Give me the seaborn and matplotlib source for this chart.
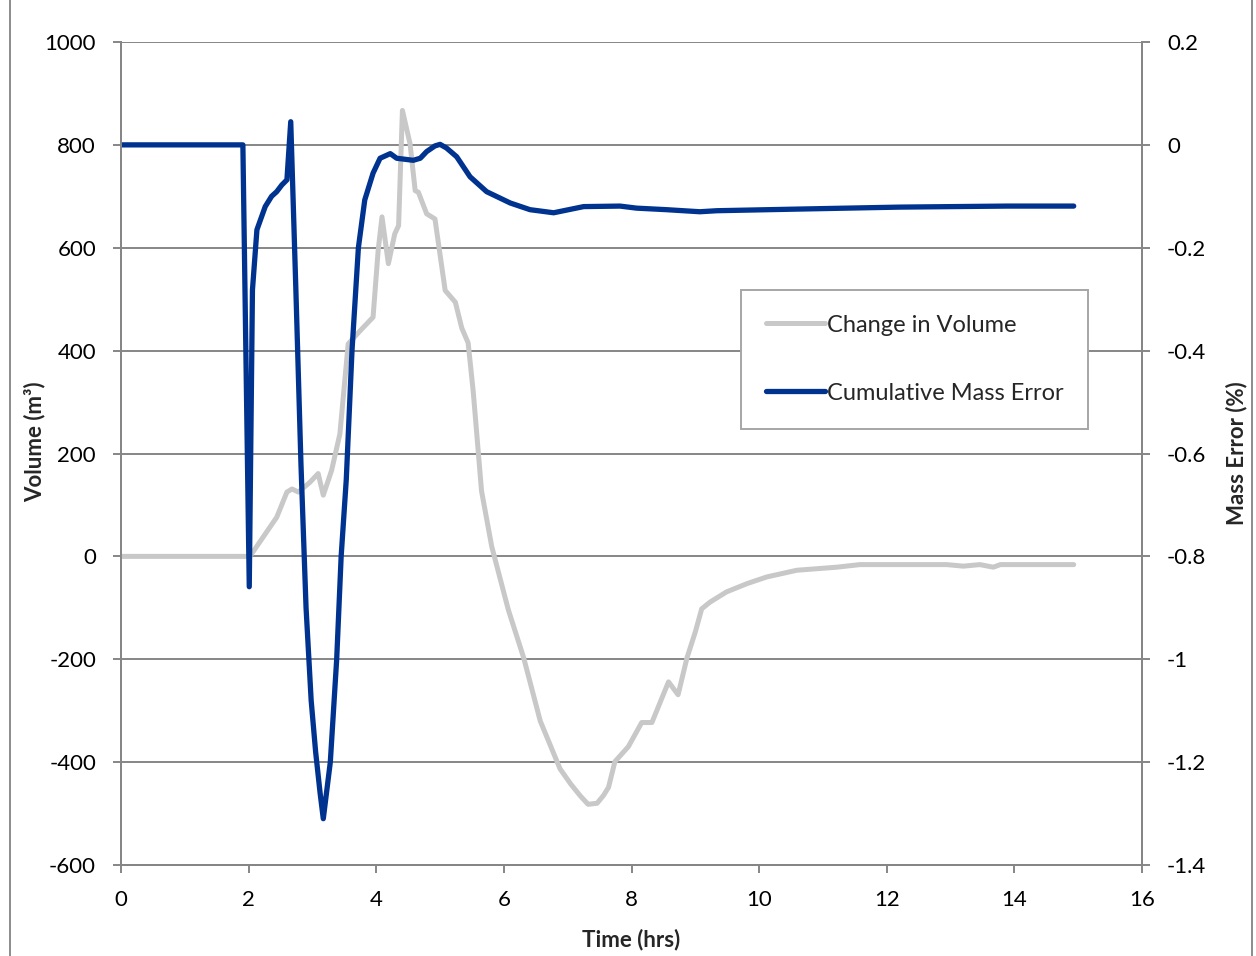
import seaborn as sns
import matplotlib.pyplot as plt
from matplotlib.lines import Line2D

# Change in Volume (m3) vs time (hrs)
vol_time = [0, 2.02, 2.44, 2.60, 2.68, 2.78, 2.96, 3.09, 3.17, 3.30, 3.43, 3.56,
            3.75, 3.95, 4.03, 4.09, 4.19, 4.29, 4.35, 4.41, 4.53, 4.61, 4.66,
            4.79, 4.92, 5.08, 5.24, 5.34, 5.44, 5.52, 5.65, 5.81, 6.07, 6.31,
            6.57, 6.88, 7.05, 7.20, 7.32, 7.46, 7.56, 7.64, 7.74, 7.95, 8.16, 8.32, 8.58,
            8.73, 8.87, 9.0, 9.10, 9.23, 9.49, 9.81, 10.12, 10.59, 11.22, 11.58,
            12.94, 13.2, 13.46, 13.67, 13.78, 14.93]
volume = [0, 0, 76, 125, 131, 125, 144, 161, 119, 167, 238, 413,
          439, 465, 595, 660, 569, 627, 643, 867, 802, 711, 708,
          666, 656, 517, 494, 444, 415, 320, 127, 19, -104, -197,
          -320, -413, -443, -466, -482, -480, -465, -449, -399, -370, -323, -323, -244,
          -269, -197, -147, -102, -89, -69, -53, -40, -27, -21, -16,
          -16, -19, -16, -21, -16, -16]

# Cumulative Mass Error (%) vs time (hrs)
err_time = [0, 1.91, 2.01, 2.06, 2.13, 2.26, 2.36, 2.44, 2.52, 2.60, 2.66, 2.74,
            2.82, 2.90, 2.98, 3.05, 3.12, 3.17, 3.28, 3.38, 3.45, 3.53, 3.62, 3.72,
            3.82, 3.95, 4.06, 4.22, 4.32, 4.58, 4.69, 4.79, 4.92, 5.0, 5.1, 5.26, 5.47,
            5.73, 6.10, 6.41, 6.78, 7.25, 7.82, 8.08, 8.55, 9.07, 9.34, 10.54,
            12.2, 13.88, 14.93]
mass_error = [0, 0, -0.859, -0.282, -0.165, -0.12, -0.10, -0.091, -0.078, -0.068, 0.045, -0.28,
              -0.62, -0.90, -1.08, -1.18, -1.26, -1.31, -1.20, -1.0, -0.80, -0.651, -0.40, -0.2,
              -0.107, -0.055, -0.026, -0.017, -0.026, -0.030, -0.026, -0.013, -0.002, 0.001, -0.006, -0.023, -0.062,
              -0.091, -0.113, -0.126, -0.132, -0.12, -0.119, -0.123, -0.126, -0.13, -0.128, -0.125,
              -0.121, -0.119, -0.119]

grey_line = "#C8C8C8"
blue_line = "#00338F"
axis_grey = "#868686"

sns.set_style("white")
plt.rcParams["font.family"] = ["Lato", "DejaVu Sans"]
plt.rcParams["font.size"] = 16
plt.rcParams["axes.unicode_minus"] = False

fig = plt.figure(figsize=(12.56, 9.56), dpi=100)
ax = fig.add_axes([121 / 1256, 1 - 865 / 956, 1021 / 1256, 823 / 956])
ax2 = ax.twinx()

sns.lineplot(x=vol_time, y=volume, ax=ax, color=grey_line, linewidth=3.6,
             label="Change in Volume", legend=False)
sns.lineplot(x=err_time, y=mass_error, ax=ax2, color=blue_line, linewidth=3.8,
             label="Cumulative Mass Error", legend=False)

ax.set_xlim(0, 16)
ax.set_ylim(-600, 1000)
ax2.set_ylim(-1.4, 0.2)
ax.set_xticks(range(0, 17, 2))
ax.set_yticks(range(-600, 1001, 200))
ax2.set_yticks([-1.4, -1.2, -1, -0.8, -0.6, -0.4, -0.2, 0, 0.2])
ax2.set_yticklabels(["-1.4", "-1.2", "-1", "-0.8", "-0.6", "-0.4", "-0.2", "0", "0.2"])

ax.grid(axis="y", color=axis_grey, linewidth=1.4)
ax.set_axisbelow(True)

for a in (ax, ax2):
    a.spines["top"].set_visible(False)
    for s in ("left", "right", "bottom"):
        a.spines[s].set_color(axis_grey)
        a.spines[s].set_linewidth(1.4)
    a.tick_params(colors=axis_grey, labelcolor="black", length=6, width=1.4,
                  pad=12, labelsize=16, direction="out")
ax.tick_params(axis="y", left=True)
ax.tick_params(axis="x", bottom=True)
ax2.tick_params(axis="y", right=True)

ax.set_xlabel("Time (hrs)", fontweight="bold", fontsize=16)
ax.set_ylabel("Volume (m³)", fontweight="bold", fontsize=16)
ax2.set_ylabel("Mass Error (%)", fontweight="bold", fontsize=16)
ax.xaxis.set_label_coords((631 - 121) / 1021, -(929 - 865) / 823)
ax.yaxis.set_label_coords(-(121 - 45) / 1021, (865 - 442) / 823)
ax2.yaxis.set_label_coords((1226 - 121) / 1021, (865 - 453) / 823)

handles = ax.get_lines()[:1] + ax2.get_lines()[:1]
leg = ax2.legend(handles, ["Change in Volume", "Cumulative Mass Error"],
                 loc="upper left", bbox_to_anchor=(0.607, 0.699),
                 frameon=True, fancybox=False, framealpha=1,
                 edgecolor="#A6A6A6", fontsize=17, handlelength=2.5,
                 handletextpad=0.1, labelspacing=2.0, borderpad=1.05,
                 borderaxespad=0)
leg.get_frame().set_linewidth(1.4)

# outer chart-area border
fig.add_artist(Line2D([10 / 1256, 10 / 1256], [0, 1], color="#8C8C8C", linewidth=1.4))
fig.add_artist(Line2D([1252 / 1256, 1252 / 1256], [0, 1], color="#8C8C8C", linewidth=1.4))

fig.savefig("out.png", dpi=100)
